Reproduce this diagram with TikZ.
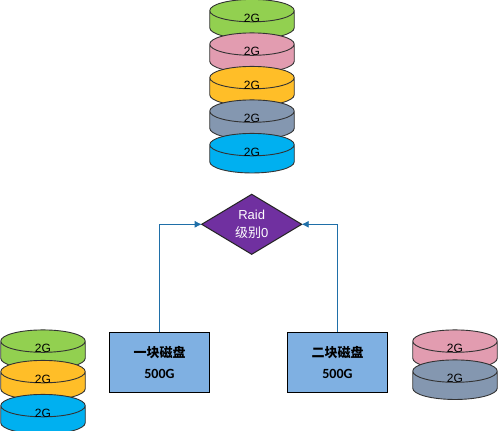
\documentclass[tikz,border=0pt]{standalone}
\usepackage{fontspec}
\setmainfont{Liberation Sans}
\newfontfamily\cjk{Noto Sans CJK SC}
\newfontfamily\carlito{Carlito}
\usetikzlibrary{shapes.geometric,arrows.meta}
\definecolor{diskgreen}{HTML}{92D050}
\definecolor{diskpink}{HTML}{E29CB0}
\definecolor{diskorange}{HTML}{FFBE28}
\definecolor{diskslate}{HTML}{8497B0}
\definecolor{diskblue}{HTML}{00B0F0}
\definecolor{boxblue}{HTML}{7FB0E2}
\definecolor{raidpurple}{HTML}{7030A0}
\definecolor{wireblue}{HTML}{1F6FA8}
\newcommand{\sizelabel}{\raisebox{5.5pt}[5.5pt][0pt]{2G}}
\tikzset{
  disk/.style={cylinder, shape border rotate=90, shape aspect=1.4, draw=black!80, line width=0.9pt, anchor=shape center,
    minimum width=84.5pt, minimum height=33.5pt, inner sep=0pt, outer sep=0pt, font=\fontsize{12}{14}\selectfont},
  drive/.style={rectangle, draw=black, line width=1pt, fill=boxblue, minimum width=100pt, minimum height=60pt,
    inner sep=0pt, outer sep=0pt, align=center},
  wire/.style={draw=wireblue, line width=0.8pt, -{Latex[length=7pt,width=7pt]}},
}
\begin{document}
\begin{tikzpicture}[x=1pt,y=-1pt]
  \useasboundingbox (0,0) rectangle (499,431);
  \node[disk, fill=diskgreen] (t1) at (252,19.2) {\sizelabel};
  \node[disk, fill=diskpink] (t2) at (252,52.7) {\sizelabel};
  \node[disk, fill=diskorange] (t3) at (252,86.2) {\sizelabel};
  \node[disk, fill=diskslate] (t4) at (252,119.7) {\sizelabel};
  \node[disk, fill=diskblue] (t5) at (252,153.2) {\sizelabel};

  \node[disk, fill=diskgreen] (l1) at (43,349.7) {\sizelabel};
  \node[disk, fill=diskorange] (l2) at (43,380.2) {\sizelabel};
  \node[disk, fill=diskblue] (l3) at (43,414.2) {\sizelabel};

  \node[disk, fill=diskpink] (r1) at (455,349.7) {\sizelabel};
  \node[disk, fill=diskslate] (r2) at (455,379.7) {\sizelabel};

  \node[diamond, draw=black!85, line width=1pt, fill=raidpurple, text=white, inner sep=0pt, outer sep=0pt,
    aspect=1.667, minimum width=100pt, minimum height=60pt, align=center, font=\fontsize{13}{18}\selectfont]
    (raid) at (251.7,224.3) {Raid\\{\cjk 级别}0};

  \node[drive] (b1) at (159.5,362) {{\fontsize{13}{16}\selectfont\cjk\bfseries 一块磁盘}\\[9pt]{\fontsize{14}{16}\selectfont\carlito\bfseries 500G}};
  \node[drive] (b2) at (337.5,362) {{\fontsize{13}{16}\selectfont\cjk\bfseries 二块磁盘}\\[9pt]{\fontsize{14}{16}\selectfont\carlito\bfseries 500G}};

  \draw[wire] (b1.north) |- (raid.west);
  \draw[wire] (b2.north) |- (raid.east);
\end{tikzpicture}
\end{document}
